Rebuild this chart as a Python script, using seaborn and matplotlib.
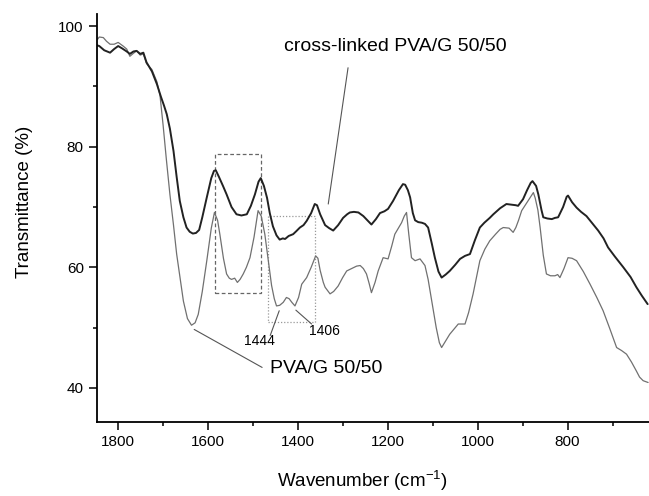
import numpy as np
import pandas as pd
import matplotlib
matplotlib.use("Agg")
import matplotlib.pyplot as plt
from matplotlib.patches import Rectangle
from matplotlib.ticker import MultipleLocator
import seaborn as sns

# ---- data ----
wn_crosslinked = [1845, 1841, 1830, 1817, 1808, 1799, 1790, 1780, 1773, 1765, 1758, 1750, 1743, 1736,
                  1724, 1713, 1704, 1697, 1691, 1684, 1676, 1669, 1662, 1654, 1647, 1640, 1633, 1626,
                  1619, 1612, 1602, 1592, 1586, 1582, 1575, 1566, 1558, 1547, 1536, 1525, 1513, 1504,
                  1495, 1487, 1482, 1475, 1468, 1462, 1455, 1447, 1440, 1433, 1428, 1420, 1410, 1403,
                  1395, 1387, 1380, 1370, 1362, 1357, 1350, 1339, 1330, 1321, 1310, 1299, 1290, 1284,
                  1275, 1265, 1254, 1245, 1236, 1226, 1217, 1207, 1199, 1188, 1175, 1166, 1161, 1155,
                  1150, 1144, 1139, 1132, 1124, 1117, 1110, 1102, 1095, 1087, 1080, 1071, 1062, 1050,
                  1039, 1028, 1017, 1006, 995, 985, 973, 965, 950, 936, 925, 915, 910, 899, 890, 882,
                  878, 870, 865, 858, 854, 845, 835, 828, 821, 810, 802, 799, 790, 780, 770, 758, 745,
                  732, 720, 710, 695, 676, 660, 647, 635, 622]
t_crosslinked = [96.8, 96.7, 96.0, 95.6, 96.2, 96.7, 96.3, 95.8, 95.4, 95.8, 95.9, 95.4, 95.6, 94.0,
                 92.5, 90.4, 88.3, 86.8, 85.4, 83.0, 79.3, 75.0, 71.0, 68.3, 66.6, 65.9, 65.6, 65.7,
                 66.2, 68.3, 71.6, 74.8, 76.0, 76.1, 75.0, 73.5, 72.1, 70.0, 68.8, 68.6, 68.8, 70.2,
                 72.1, 74.2, 74.8, 73.5, 71.5, 69.0, 66.8, 65.3, 64.6, 64.8, 64.7, 65.2, 65.5, 66.0,
                 66.6, 67.0, 67.7, 69.0, 70.5, 70.3, 68.8, 67.0, 66.5, 66.1, 67.0, 68.2, 68.8, 69.1,
                 69.2, 69.1, 68.5, 67.8, 67.1, 68.0, 69.0, 69.3, 69.7, 71.0, 72.8, 73.8, 73.7, 72.8,
                 71.6, 69.0, 67.8, 67.5, 67.4, 67.2, 66.6, 64.0, 61.6, 59.3, 58.3, 58.8, 59.4, 60.4,
                 61.4, 61.9, 62.2, 64.5, 66.6, 67.4, 68.2, 68.8, 69.8, 70.5, 70.4, 70.3, 70.2, 71.3,
                 72.8, 74.0, 74.3, 73.5, 72.1, 69.5, 68.3, 68.1, 68.0, 68.2, 68.3, 70.0, 71.7, 71.9,
                 70.8, 69.9, 69.2, 68.5, 67.3, 66.1, 64.8, 63.3, 61.8, 60.0, 58.4, 56.7, 55.3, 53.9]

wn_pvag = [1845, 1841, 1832, 1825, 1817, 1808, 1799, 1788, 1780, 1773, 1765, 1758, 1750, 1743, 1736,
           1724, 1713, 1706, 1699, 1692, 1684, 1676, 1669, 1661, 1654, 1645, 1636, 1628, 1621, 1612,
           1602, 1592, 1585, 1578, 1573, 1565, 1558, 1552, 1547, 1540, 1534, 1528, 1521, 1514, 1506,
           1497, 1488, 1481, 1473, 1465, 1458, 1452, 1447, 1440, 1432, 1425, 1419, 1413, 1406, 1398,
           1391, 1380, 1370, 1360, 1355, 1350, 1343, 1339, 1328, 1320, 1310, 1300, 1291, 1280, 1269,
           1261, 1254, 1247, 1241, 1236, 1228, 1221, 1210, 1199, 1191, 1184, 1176, 1169, 1163, 1158,
           1153, 1147, 1139, 1128, 1117, 1110, 1102, 1092, 1085, 1080, 1071, 1062, 1052, 1043, 1028,
           1020, 1010, 1002, 995, 984, 973, 960, 950, 943, 930, 921, 915, 909, 902, 890, 880, 876,
           872, 866, 861, 854, 847, 838, 828, 822, 817, 808, 799, 790, 780, 765, 750, 735, 721, 706,
           691, 680, 669, 658, 647, 640, 632, 621]
t_pvag = [97.8, 98.2, 98.1, 97.5, 97.0, 97.0, 97.3, 96.7, 96.2, 95.0, 95.5, 95.9, 95.2, 95.4, 93.8,
          92.8, 90.8, 88.5, 83.5, 78.0, 72.1, 67.0, 62.2, 58.0, 54.4, 51.5, 50.4, 50.8, 52.2, 56.0,
          61.1, 66.5, 69.1, 67.8, 65.5, 61.5, 58.9, 58.2, 58.0, 58.2, 57.5, 58.0, 58.9, 60.0, 61.6,
          65.0, 69.4, 68.5, 65.5, 61.0, 57.0, 54.8, 53.6, 53.7, 54.2, 55.0, 54.8, 54.2, 53.6, 55.0,
          57.2, 58.3, 60.0, 61.9, 61.5, 59.5, 57.5, 56.7, 55.6, 56.0, 56.9, 58.3, 59.4, 59.8, 60.2,
          60.3, 59.8, 58.9, 57.3, 55.8, 57.5, 59.4, 61.6, 61.4, 63.5, 65.5, 66.5, 67.4, 68.5, 69.1,
          65.5, 61.6, 61.1, 61.4, 60.3, 58.0, 54.4, 50.0, 47.5, 46.7, 47.8, 48.9, 49.8, 50.6, 50.6,
          52.5, 55.6, 58.5, 61.1, 63.0, 64.4, 65.5, 66.3, 66.6, 66.5, 65.8, 66.6, 67.8, 69.4, 70.8,
          72.0, 72.4, 71.5, 69.5, 66.6, 62.0, 58.9, 58.6, 58.6, 58.8, 58.3, 59.8, 61.6, 61.5, 61.1,
          59.3, 57.2, 55.0, 52.8, 49.8, 46.7, 46.2, 45.6, 44.3, 42.8, 41.8, 41.2, 40.9]

x_ticks = [1800, 1600, 1400, 1200, 1000, 800]
y_ticks = [40, 60, 80, 100]

# ---- style ----
sns.set_style("ticks")
plt.rcParams["font.family"] = ["Liberation Sans", "DejaVu Sans"]
plt.rcParams["mathtext.default"] = "regular"
plt.rcParams["text.color"] = "black"
plt.rcParams["axes.labelcolor"] = "black"
plt.rcParams["xtick.color"] = "black"
plt.rcParams["ytick.color"] = "black"

fig = plt.figure(figsize=(6.49, 4.96), dpi=100)
ax = fig.add_axes([0.1495, 0.1486, 0.8505, 0.823])

df_x = pd.DataFrame({"wn": wn_crosslinked, "T": t_crosslinked})
df_p = pd.DataFrame({"wn": wn_pvag, "T": t_pvag})

sns.lineplot(data=df_p, x="wn", y="T", ax=ax, color="#707070", lw=0.9, sort=False,
             estimator=None)
sns.lineplot(data=df_x, x="wn", y="T", ax=ax, color="#222222", lw=1.4, sort=False,
             estimator=None)

ax.set_xlim(1846, 619)
ax.set_ylim(34.3, 102)
ax.set_xticks(x_ticks)
ax.set_yticks(y_ticks)
ax.xaxis.set_minor_locator(MultipleLocator(100))
ax.yaxis.set_minor_locator(MultipleLocator(10))
ax.tick_params(axis="both", which="major", direction="out", length=6, width=1.1,
               labelsize=11, pad=3.5, color="black", labelcolor="black")
ax.tick_params(axis="both", which="minor", direction="out", length=3, width=1.1, color="black")
for s in ["top", "right"]:
    ax.spines[s].set_visible(False)
for s in ["left", "bottom"]:
    ax.spines[s].set_linewidth(1.3)
    ax.spines[s].set_color("black")

ax.set_xlabel("Wavenumber (cm$^{-1}$)", fontsize=13.5)
ax.set_ylabel("Transmittance (%)", fontsize=13.5)
ax.xaxis.set_label_coords(0.48, -0.113)
ax.yaxis.set_label_coords(-0.116, 0.54)

# highlight boxes
ax.add_patch(Rectangle((1584, 55.7), 1482 - 1584, 78.8 - 55.7, fill=False,
                       ls=(0, (3, 2)), lw=0.9, ec="#666666"))
ax.add_patch(Rectangle((1465, 51.0), 1362 - 1465, 68.5 - 51.0, fill=False,
                       ls=(0, (1, 1.5)), lw=0.9, ec="#999999"))

line_kw = dict(arrowstyle="-", color="#555555", lw=0.8, shrinkA=0, shrinkB=0)
ax.annotate("", xy=(1332, 70.5), xytext=(1288, 93.1), arrowprops=line_kw)
ax.text(1184, 96.7, "cross-linked PVA/G 50/50", fontsize=14, ha="center", va="center")
ax.annotate("", xy=(1630, 49.7), xytext=(1479, 43.4), arrowprops=line_kw)
ax.text(1337, 43.2, "PVA/G 50/50", fontsize=14, ha="center", va="center")
ax.annotate("", xy=(1441, 52.8), xytext=(1461, 48.7), arrowprops=line_kw)
ax.text(1486, 47.8, "1444", fontsize=10, ha="center", va="center")
ax.annotate("", xy=(1404, 52.9), xytext=(1369, 50.6), arrowprops=line_kw)
ax.text(1341, 49.5, "1406", fontsize=10, ha="center", va="center")

fig.savefig("out.png", dpi=100)
